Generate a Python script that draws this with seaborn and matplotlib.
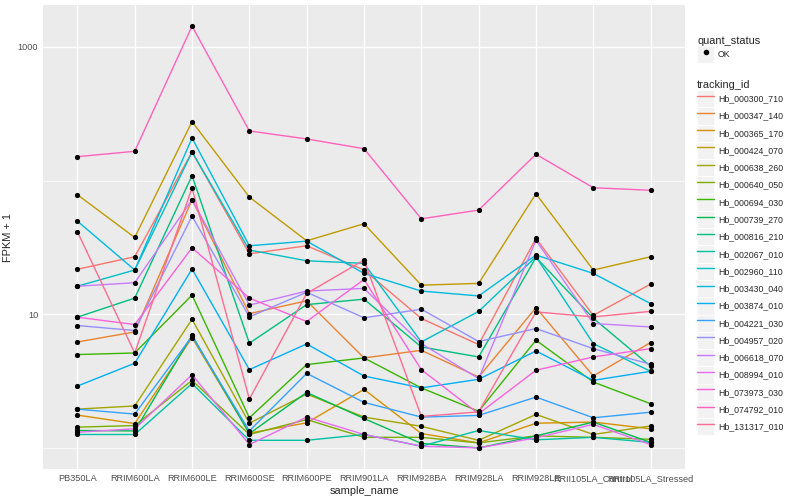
import numpy as np
import pandas as pd
import matplotlib
matplotlib.use("Agg")
import matplotlib.pyplot as plt
import seaborn as sns
from matplotlib.lines import Line2D
from matplotlib.patches import Patch
from matplotlib.legend_handler import HandlerTuple
from matplotlib.ticker import FixedLocator, NullFormatter

# samples on the x axis
samples = ["PB350LA", "RRIM600LA", "RRIM600LE", "RRIM600SE", "RRIM600PE",
           "RRIM901LA", "RRIM928BA", "RRIM928LA", "RRIM928LE",
           "RRII105LA_Control", "RRII105LA_Stressed"]

tracking_ids = ["Hb_000300_710", "Hb_000347_140", "Hb_000365_170", "Hb_000424_070",
                "Hb_000638_260", "Hb_000640_050", "Hb_000694_030", "Hb_000739_270",
                "Hb_000816_210", "Hb_002067_010", "Hb_002960_110", "Hb_003430_040",
                "Hb_003874_010", "Hb_004221_030", "Hb_004957_020", "Hb_006618_070",
                "Hb_008994_010", "Hb_073973_030", "Hb_074792_010", "Hb_131317_010"]

# FPKM + 1 per gene, one value per sample
hb_000300_710 = [21.7, 26.9, 163.5, 28.3, 32.5, 21.4, 9.29, 5.93, 36.9, 9.8, 16.8]
hb_000347_140 = [6.20, 7.37, 71.8, 10.1, 12.6, 4.71, 5.37, 3.39, 11.2, 3.45, 6.14]
hb_000365_170 = [1.76, 1.52, 6.69, 1.29, 1.54, 2.74, 1.28, 1.09, 1.53, 1.56, 1.39]
hb_000424_070 = [78.3, 37.5, 275.6, 75.2, 35.4, 47.5, 16.5, 17.0, 79.6, 21.4, 26.9]
hb_000638_260 = [1.95, 2.06, 9.17, 1.53, 2.53, 1.70, 1.45, 1.14, 1.78, 1.26, 1.46]
hb_000640_050 = [1.43, 1.47, 3.20, 1.26, 1.63, 1.20, 1.20, 1.09, 1.23, 1.20, 1.16]
hb_000694_030 = [4.99, 5.13, 13.9, 1.68, 4.20, 4.71, 2.81, 1.88, 6.39, 3.11, 2.14]
hb_000739_270 = [1.35, 1.34, 6.96, 1.28, 2.60, 1.66, 1.08, 1.00, 1.23, 1.56, 1.10]
hb_000816_210 = [9.5, 13.2, 108.6, 6.07, 11.8, 12.96, 5.69, 4.79, 26.6, 9.33, 4.08]
hb_002067_010 = [1.26, 1.26, 3.03, 1.14, 1.14, 1.26, 1.03, 1.35, 1.15, 1.20, 1.10]
hb_002960_110 = [16.2, 21.4, 163.5, 30.2, 25.1, 24.0, 6.20, 10.5, 26.9, 6.03, 3.74]
hb_003430_040 = [49.7, 21.4, 208.1, 32.5, 35.2, 20.2, 14.9, 13.7, 27.7, 20.2, 12.0]
hb_003874_010 = [2.90, 4.30, 21.8, 3.85, 5.99, 3.45, 2.81, 3.26, 5.31, 3.20, 3.74]
hb_004221_030 = [1.95, 1.79, 6.84, 1.34, 3.61, 2.19, 1.70, 1.75, 2.40, 1.68, 1.85]
hb_004957_020 = [8.23, 7.55, 54.2, 9.55, 14.6, 9.4, 10.9, 6.25, 7.81, 5.53, 4.22]
hb_006618_070 = [16.2, 17.2, 71.8, 11.7, 14.9, 15.6, 6.03, 3.30, 35.8, 8.52, 8.03]
hb_008994_010 = [1.31, 1.39, 3.53, 1.06, 1.70, 1.26, 1.03, 1.00, 1.19, 1.50, 1.06]
hb_073973_030 = [9.5, 8.37, 31.4, 13.2, 8.82, 18.2, 3.85, 1.80, 3.81, 4.79, 5.53]
hb_074792_010 = [150.8, 165.4, 1429, 234.9, 204.6, 173.0, 51.7, 60.1, 157.2, 88.3, 84.5]
hb_131317_010 = [41.4, 5.13, 87.9, 2.32, 14.3, 25.4, 1.72, 1.86, 10.4, 9.55, 10.5]

fpkm_rows = [hb_000300_710, hb_000347_140, hb_000365_170, hb_000424_070, hb_000638_260,
             hb_000640_050, hb_000694_030, hb_000739_270, hb_000816_210, hb_002067_010,
             hb_002960_110, hb_003430_040, hb_003874_010, hb_004221_030, hb_004957_020,
             hb_006618_070, hb_008994_010, hb_073973_030, hb_074792_010, hb_131317_010]

# ggplot default hue palette for 20 levels
hue_colors = ["#F8766D", "#EA8331", "#D89000", "#C09B00", "#A3A500", "#7CAE00", "#39B600",
              "#00BB4E", "#00BF7D", "#00C1A3", "#00BFC4", "#00BAE0", "#00B0F6", "#35A2FF",
              "#9590FF", "#C77CFF", "#E76BF3", "#FA62DB", "#FF62BC", "#FF6C91"]

rows = []
for tid, vals in zip(tracking_ids, fpkm_rows):
    for s, v in zip(samples, vals):
        rows.append({"tracking_id": tid, "sample_name": s, "fpkm": v, "quant_status": "OK"})
df = pd.DataFrame(rows)

sns.set_theme(style="darkgrid", rc={
    "axes.facecolor": "#EBEBEB",
    "grid.color": "white",
    "grid.linewidth": 1.0,
})
plt.rcParams["font.family"] = ["Liberation Sans", "DejaVu Sans"]

fig = plt.figure(figsize=(8, 5), dpi=100)
ax = fig.add_axes([43 / 800, 31 / 500, 642 / 800, 464 / 500])

sns.lineplot(data=df, x="sample_name", y="fpkm", hue="tracking_id",
             hue_order=tracking_ids, palette=hue_colors, sort=False,
             estimator=None, linewidth=1.0, legend=False, ax=ax)
sns.scatterplot(data=df, x="sample_name", y="fpkm", color="black", s=14,
                linewidth=0, zorder=5, legend=False, ax=ax)

ax.set_yscale("log")
lmin, lmax = np.log10(df["fpkm"].min()), np.log10(df["fpkm"].max())
rng = lmax - lmin
ax.set_ylim(10 ** (lmin - 0.05 * rng), 10 ** (lmax + 0.05 * rng))
ax.set_xlim(-0.6, len(samples) - 0.4)

ax.yaxis.set_major_locator(FixedLocator([10, 1000]))
ax.set_yticklabels(["10", "1000"])
ax.yaxis.set_minor_locator(FixedLocator([1, 100]))
ax.yaxis.set_minor_formatter(NullFormatter())
ax.grid(which="major", color="white", linewidth=1.0)
ax.grid(which="minor", axis="y", color="white", linewidth=0.5)
ax.tick_params(axis="both", which="major", length=2.0, width=0.8, color="#333333",
               labelsize=6.6, labelcolor="#4D4D4D", pad=1.5)
ax.tick_params(axis="y", which="minor", length=0)
for sp in ax.spines.values():
    sp.set_visible(False)

ax.set_xlabel("sample_name", fontsize=7.9, labelpad=2)
ax.set_ylabel("FPKM + 1", fontsize=7.9, labelpad=3)

# legends: grey key box with the line / point drawn over it
key_bg = dict(facecolor="#F2F2F2", edgecolor="white", linewidth=0.6)
common = dict(loc="upper left", frameon=False, fontsize=6.3, title_fontsize=7.9,
              handlelength=1.98, handleheight=2.66, handletextpad=0.4,
              labelspacing=0, borderpad=0, borderaxespad=0, alignment="left",
              handler_map={tuple: HandlerTuple(ndivide=1, pad=0)})

qs_handles = [(Patch(**key_bg),
               Line2D([], [], marker="o", color="black", linestyle="none", markersize=3))]
fig.legend(qs_handles, ["OK"], title="quant_status",
           bbox_to_anchor=(697 / 800, 1 - 36 / 500), **common)

tid_handles = [(Patch(**key_bg), Line2D([], [], color=c, linewidth=1.0)) for c in hue_colors]
fig.legend(tid_handles, tracking_ids, title="tracking_id",
           bbox_to_anchor=(697 / 800, 1 - 80 / 500), **common)

fig.savefig("out.png", dpi=100)
